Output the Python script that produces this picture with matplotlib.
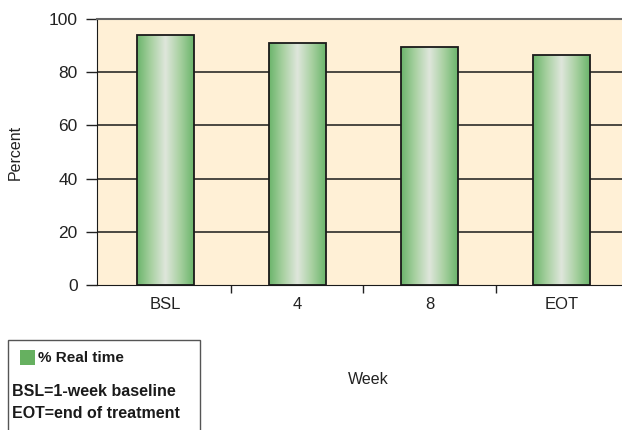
import numpy as np
import matplotlib
matplotlib.use('Agg')
import matplotlib.pyplot as plt
from matplotlib.colors import LinearSegmentedColormap
from matplotlib.patches import Rectangle

# Data
weeks = ['BSL', '4', '8', 'EOT']
real_time_pct = [94, 91, 89.5, 86.5]
y_ticks = [0, 20, 40, 60, 80, 100]

plt.rcParams['font.family'] = ['Liberation Sans', 'DejaVu Sans']

fig = plt.figure(figsize=(6.22, 4.30), dpi=100)
ax = fig.add_axes([97 / 622, 1 - 285 / 430, 1 - 97 / 622, (285 - 19) / 430])
ax.set_facecolor('#fff0d6')

x = np.arange(len(weeks))
width = 0.43

# horizontal gridlines
for yv in y_ticks[1:-1]:
    ax.axhline(yv, color='#1a1a1a', lw=1.1, zorder=1)

# bars with a cylinder-like gradient
grad_cmap = LinearSegmentedColormap.from_list(
    'cyl', ['#6bb56b', '#a9d1a2', '#dfe6dc', '#a9d1a2', '#6bb56b'])
grad = np.linspace(0, 1, 256).reshape(1, -1)
bars = ax.bar(x, real_time_pct, width, color='none', edgecolor='#1a1a1a',
              lw=1.3, zorder=3)
for b in bars:
    x0, w, h = b.get_x(), b.get_width(), b.get_height()
    im = ax.imshow(grad, cmap=grad_cmap, aspect='auto',
                   extent=[x0, x0 + w, 0, h], zorder=2)
    im.set_clip_path(Rectangle((x0, 0), w, h, transform=ax.transData))
ax.set_xlim(-0.515, 3.455)
ax.set_ylim(0, 100)

# axes styling
ax.spines['right'].set_visible(False)
ax.spines['top'].set_color('#666666')
ax.spines['top'].set_linewidth(1.5)
ax.spines['left'].set_color('#1a1a1a')
ax.spines['bottom'].set_color('#1a1a1a')

ax.set_yticks(y_ticks)
ax.tick_params(axis='y', direction='out', length=8, width=1, labelsize=12.5,
               colors='#222222', pad=6)
ax.set_xticks([0.5, 1.5, 2.5])
ax.set_xticklabels([])
ax.tick_params(axis='x', direction='out', length=6, width=1, colors='#222222')
for xi, lab in zip(x, weeks):
    ax.text(xi, -4.5, lab, ha='center', va='top', fontsize=12,
            color='#222222')

fig.text(368 / 622, 1 - 380 / 430, 'Week', ha='center', va='center',
         fontsize=11.5, color='#222222')
fig.text(15 / 622, 1 - 152 / 430, 'Percent', ha='center', va='center',
         rotation=90, fontsize=11.5, color='#222222')

# legend box
box = Rectangle((8 / 622, -0.01), 192 / 622, (430 - 340) / 430 + 0.01,
                transform=fig.transFigure, facecolor='white',
                edgecolor='#555555', lw=1)
fig.patches.append(box)
fig.patches.append(Rectangle((20 / 622, 1 - 365 / 430), 15 / 622, 15 / 430,
                             transform=fig.transFigure,
                             facecolor='#66b060', edgecolor='none'))
fig.text(38 / 622, 1 - 358 / 430, '% Real time', ha='left', va='center',
         fontsize=11, fontweight='bold', color='#1a1a1a')
fig.text(12 / 622, 1 - 391 / 430, 'BSL=1-week baseline', ha='left',
         va='center', fontsize=11.5, fontweight='bold', color='#1a1a1a')
fig.text(12 / 622, 1 - 413 / 430, 'EOT=end of treatment', ha='left',
         va='center', fontsize=11.5, fontweight='bold', color='#1a1a1a')

fig.savefig('out.png', dpi=100)
